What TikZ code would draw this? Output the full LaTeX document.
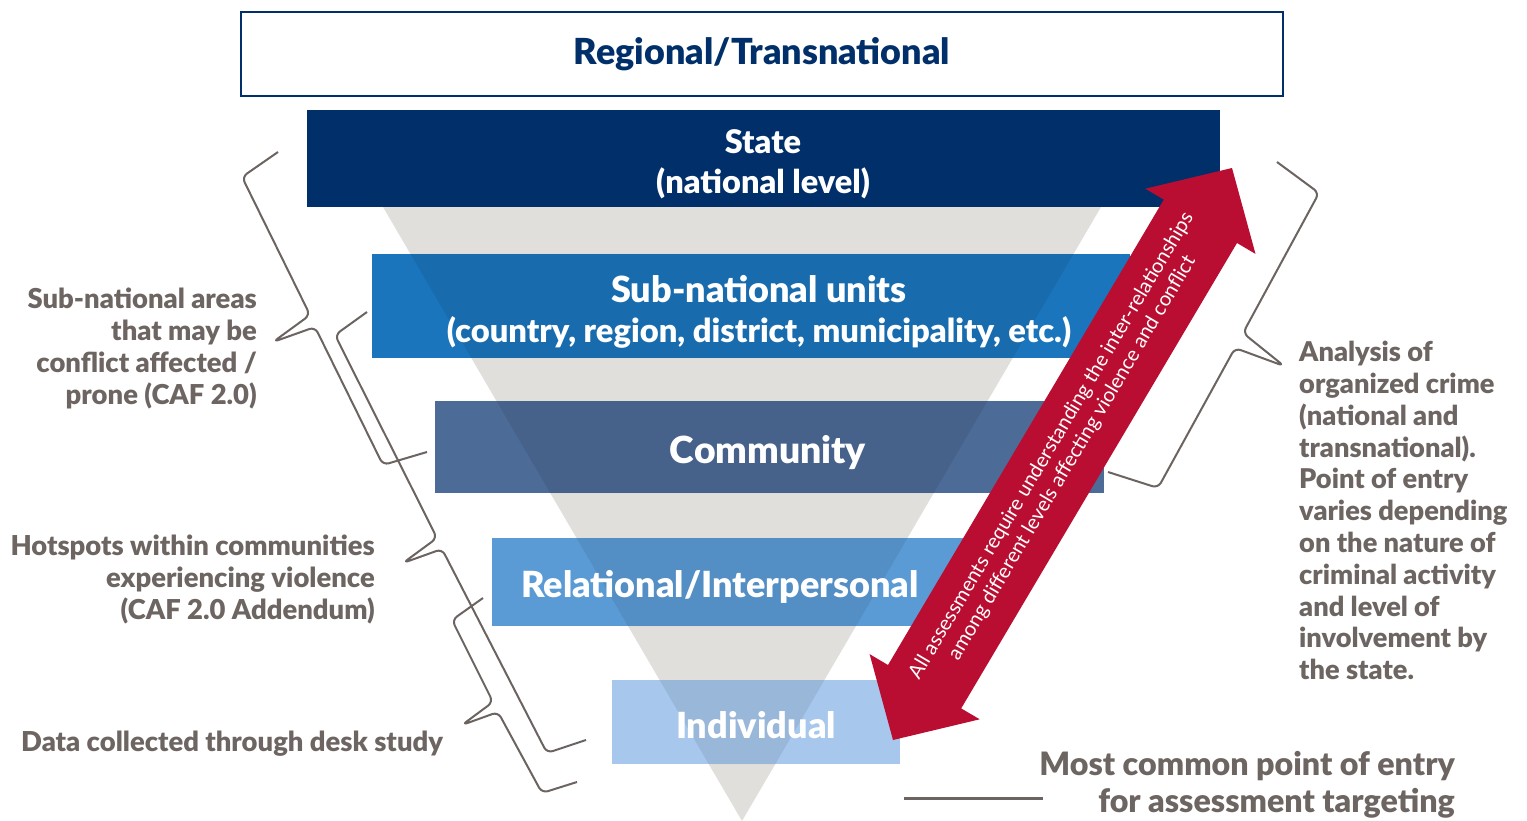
\documentclass[tikz,border=0pt]{standalone}
\usepackage{fontspec}
\setmainfont{Lato}[BoldFont={Lato Black}]
\definecolor{navy}{HTML}{002F6A}
\definecolor{subblue}{HTML}{1B75BC}
\definecolor{commblue}{HTML}{4D6B97}
\definecolor{relblue}{HTML}{5B9BD5}
\definecolor{indblue}{HTML}{A7C7EC}
\definecolor{trigrey}{HTML}{E0DFDB}
\definecolor{arrowred}{HTML}{B90E31}
\definecolor{txtgrey}{HTML}{6D6562}
\definecolor{linegrey}{HTML}{6B6461}
\begin{document}
\begin{tikzpicture}[x=1pt,y=-1pt,
  bandtext/.style={text=white,font=\bfseries\fontsize{36}{40}\selectfont,inner sep=0pt,align=center},
  sidelabel/.style={text=txtgrey,font=\bfseries\fontsize{27.4}{32}\selectfont,inner sep=0pt},
  bracestyle/.style={draw=linegrey,line width=2pt,rounded corners=6pt,line join=round},
  arrowtext/.style={text=white,font=\fontsize{20.2}{24}\selectfont,inner sep=0pt,align=center}]
\useasboundingbox (0,0) rectangle (1527,821);
% regional box
\node[draw=navy,line width=2pt,minimum width=1042pt,minimum height=84pt,inner sep=0pt,
  text=navy,font=\bfseries\fontsize{35.9}{40}\selectfont] (regional) at (762,54) {Regional/Transnational};
% triangle
\fill[trigrey] (383,207) -- (1101,207) -- (742,821) -- cycle;
% bands
\fill[navy] (307,110) rectangle (1220,207);
\fill[subblue] (372,254) rectangle (1130,358);
\fill[commblue] (435,401) rectangle (1104,493);
\fill[relblue] (492,538) rectangle (975,626);
\fill[indblue] (612,680) rectangle (900,764);
\begin{scope}
  \clip (372,254) rectangle (1130,358)
        (435,401) rectangle (1104,493) (492,538) rectangle (975,626)
        (612,680) rectangle (900,764);
  \fill[black,opacity=0.08] (383,207) -- (1101,207) -- (742,821) -- cycle;
\end{scope}
% band texts
\node[bandtext,font=\bfseries\fontsize{32.5}{40}\selectfont] (state) at (763,164) {State\\(national level)};
\node[bandtext] (subnat) at (759,312) {Sub-national units\\\fontsize{32.7}{40}\selectfont(country, region, district, municipality, etc.)};
\node[bandtext,font=\bfseries\fontsize{37.3}{40}\selectfont] (community) at (768,453) {Community};
\node[bandtext] (relational) at (720,587) {Relational/Interpersonal};
\node[bandtext] (individual) at (756,725) {Individual};
% braces
\draw[bracestyle] (278,152) -- (242,177) -- (310,315) -- (273,342) -- (315,327) -- (383,465) -- (427,452);
\draw[bracestyle] (367,312) -- (335,335) -- (437,538) -- (403,563) -- (442,549) -- (547,753) -- (586,740);
\draw[bracestyle] (483,598) -- (452,620) -- (493,702) -- (462,725) -- (498,712) -- (542,793) -- (577,782);
\draw[bracestyle] (1277,162) -- (1319,193) -- (1243,333) -- (1284,366) -- (1235,348) -- (1158,488) -- (1108,472);
% arrow
\fill[arrowred] (1232,168) -- (1255.5,253.9) -- (1237.0,243.0) -- (961.2,708.4) -- (979.7,719.3)
  -- (893,740) -- (869.6,654.1) -- (888.0,665.0) -- (1163.8,199.6) -- (1145.4,188.7) -- cycle;
\node[arrowtext,rotate=59.35] (arrowlabel) at (1062,452)
  {All assessments require understanding the inter-relationships\\among different levels affecting violence and conflict};
% side labels
\node[sidelabel,align=right,anchor=north east] (lab1) at (257,288)
  {Sub-national areas\\that may be\\conflict affected /\\prone (CAF 2.0)};
\node[sidelabel,align=right,anchor=north east] (lab2) at (375,535)
  {Hotspots within communities\\experiencing violence\\(CAF 2.0 Addendum)};
\node[sidelabel,anchor=north west] (lab3) at (21,731) {Data collected through desk study};
\node[sidelabel,align=left,anchor=north west,font=\bfseries\fontsize{27.2}{31.8}\selectfont] (lab4) at (1299,341)
  {Analysis of\\organized crime\\(national and\\transnational).\\Point of entry\\varies depending\\on the nature of\\criminal activity\\and level of\\involvement by\\the state.};
\node[sidelabel,align=right,anchor=north east,font=\bfseries\fontsize{32.2}{37}\selectfont] (lab5) at (1455,751)
  {Most common point of entry\\for assessment targeting};
\coordinate (lineL) at (904,798);
\coordinate (lineR) at (1043,798);
\draw[draw=linegrey,line width=3pt] (lineL) -- (lineR);
\end{tikzpicture}
\end{document}
